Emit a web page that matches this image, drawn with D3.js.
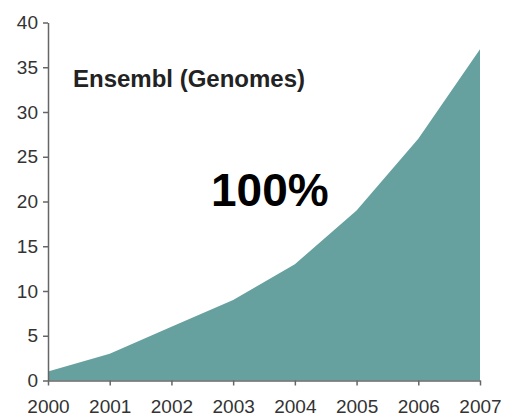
<!DOCTYPE html>
<html>
<head>
<meta charset="utf-8">
<script src="https://cdn.jsdelivr.net/npm/d3@7"></script>
<style>
  body { margin:0; background:#fff; }
  .axis text { font-family:"Liberation Sans", Arial, sans-serif; font-size:19px; fill:#333; }
  .axis path, .axis line { stroke:#666; stroke-width:1.5; }
</style>
</head>
<body>
<div id="chart"></div>
<script>
var years = [2000, 2001, 2002, 2003, 2004, 2005, 2006, 2007];
var genomes = [1, 3, 6, 9, 13, 19, 27, 37];
var yTicks = [0, 5, 10, 15, 20, 25, 30, 35, 40];
var title = "Ensembl (Genomes)";
var growthLabel = "100%";

function DrawArea(){
    var width = 506;
    var height = 416;

    var xScale = d3.scaleLinear()
        .domain([2000, 2007])
        .range([48, 480]);

    var yScale = d3.scaleLinear()
        .domain([0, 40])
        .range([380.5, 22.5]);

    var svg = d3.select("#chart").append("svg")
        .attr("width", width)
        .attr("height", height);

    var data = years.map((y, i) => [y, genomes[i]]);

    var area = d3.area()
        .x(d => xScale(d[0]))
        .y0(yScale(0))
        .y1(d => yScale(d[1]));

    svg.append("path")
        .datum(data)
        .attr("d", area)
        .style("fill", "#66a09f");

    var xAxis = d3.axisBottom(xScale)
        .tickValues(years)
        .tickFormat(d3.format("d"))
        .tickSize(5)
        .tickSizeOuter(0)
        .tickPadding(14);

    var yAxis = d3.axisLeft(yScale)
        .tickValues(yTicks)
        .tickSize(5)
        .tickSizeOuter(0)
        .tickPadding(5);

    svg.append("g")
        .attr("class", "x axis")
        .attr("transform", "translate(0," + yScale(0) + ")")
        .call(xAxis);

    svg.append("g")
        .attr("class", "y axis")
        .attr("transform", "translate(" + xScale(2000) + ",0)")
        .call(yAxis);

    svg.append("text")
        .attr("x", 73)
        .attr("y", 87)
        .style("font-family", "'Liberation Sans', Arial, sans-serif")
        .style("font-weight", "bold")
        .style("font-size", "24px")
        .style("fill", "#222")
        .text(title);

    svg.append("text")
        .attr("x", 211)
        .attr("y", 206)
        .style("font-family", "'Liberation Sans', Arial, sans-serif")
        .style("font-weight", "bold")
        .style("font-size", "46px")
        .style("fill", "#000")
        .text(growthLabel);
}

DrawArea();
</script>
</body>
</html>
